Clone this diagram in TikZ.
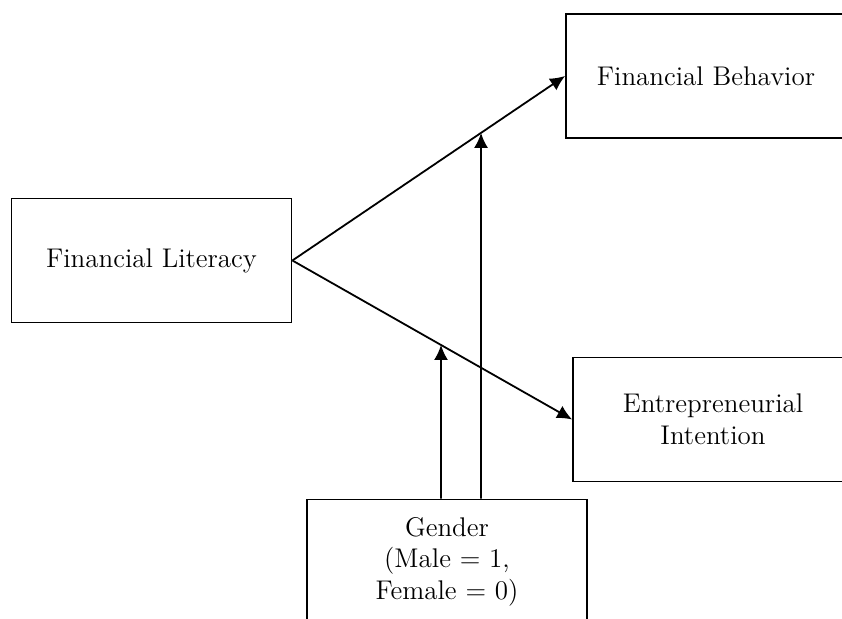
\documentclass[tikz,border=0pt]{standalone}
\usetikzlibrary{arrows.meta,positioning}
\tikzset{%
	block/.style    = {draw, rectangle, line width=0.9pt, minimum width=140pt, minimum height=62pt, align=center, font=\fontsize{13.5}{15.8}\selectfont},
	arrow/.style    = {line width=0.9pt, -{Latex[length=7.5pt,width=7pt]}},
	waypoint/.style = {coordinate},
}
\begin{document}
\begin{tikzpicture}[x=0.5pt,y=-0.5pt]
	\useasboundingbox (0,0) rectangle (842,619);
	\clip (0,0) rectangle (842,619);
	\node [block] (lit) at (151.5,260.5) {Financial Literacy};
	\node [block] (beh) at (706,76) {Financial Behavior};
	\node [block] (ent) at (713,419.5) {Entrepreneurial\\Intention};
	\node [block] (gen) at (447,561.5) {Gender\\(Male = 1,\\Female = 0)};
	\node [waypoint] (gl) at ([xshift=-3pt]gen.north) {};
	\node [waypoint] (gr) at ([xshift=17pt]gen.north) {};
	\node [waypoint] (glu) at (gl |- lit.north) {};
	\node [waypoint] (gru) at (gr |- beh.north) {};
	
	\draw[arrow] (lit.east) -- (beh.west);
	\draw[arrow] (lit.east) -- (ent.west);
	\draw[arrow] (gl) -- (intersection of lit.east--ent.west and gl--glu);
	\draw[arrow] (gr) -- (intersection of lit.east--beh.west and gr--gru);
\end{tikzpicture}
\end{document}
